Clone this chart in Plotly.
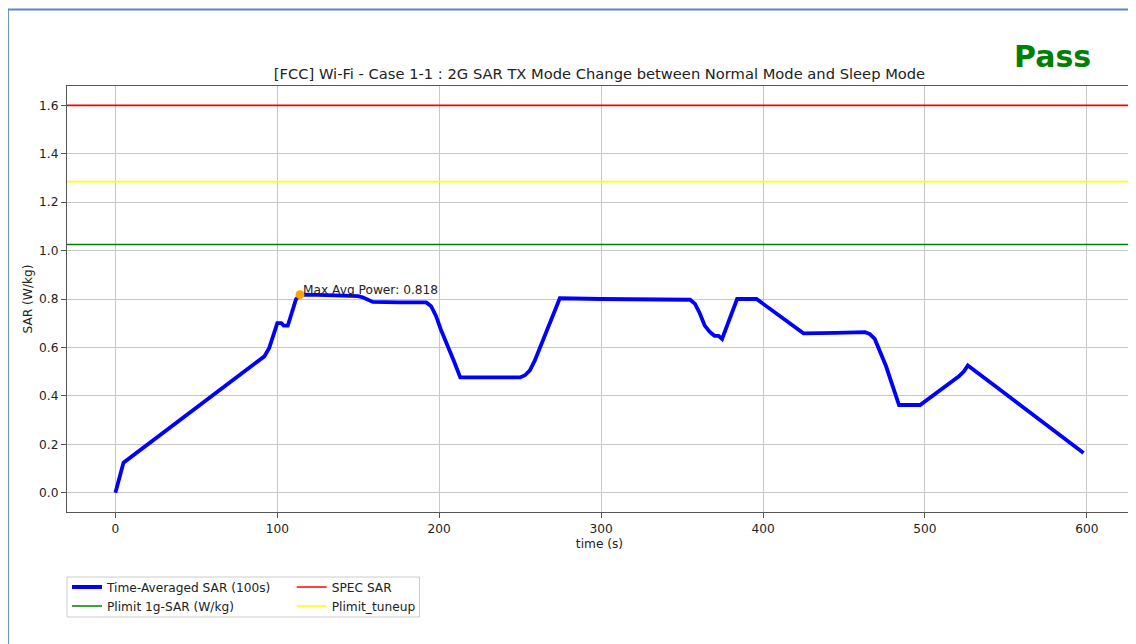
import plotly.graph_objects as go

# time-averaged SAR trace
time_s = [0, 5, 92, 95, 100, 102.5, 104, 106.5, 111.5, 114, 125, 150, 153, 156, 159,
          175, 192, 195, 198, 201, 205, 209, 213, 230, 250, 253, 256, 259, 274.5,
          300, 330, 355, 358, 361, 364, 367, 370, 372.5, 374.7, 384, 396, 410, 425,
          445, 463, 466, 469, 476, 482, 484, 497, 510, 521, 524, 526.5, 545, 575, 598]
sar = [0.0, 0.124, 0.563, 0.598, 0.70, 0.70, 0.69, 0.69, 0.798, 0.818, 0.817, 0.812, 0.806, 0.795, 0.788,
       0.786, 0.786, 0.77, 0.73, 0.674, 0.612, 0.545, 0.476, 0.476, 0.476, 0.485, 0.505, 0.545, 0.803,
       0.800, 0.797, 0.797, 0.78, 0.74, 0.69, 0.665, 0.648, 0.648, 0.635, 0.80, 0.80, 0.73, 0.658,
       0.660, 0.663, 0.655, 0.635, 0.522, 0.405, 0.362, 0.362, 0.426, 0.481, 0.50, 0.525, 0.432, 0.283, 0.164]

spec_sar = 1.6
plimit_tuneup = 1.285
plimit_1g = 1.025
max_t, max_val = 114, 0.818

FONT = "DejaVu Sans"
FS = 12.2  # matplotlib 10pt

fig = go.Figure()
fig.add_scatter(x=time_s, y=sar, mode="lines", line=dict(color="blue", width=3.8),
                name="Time-Averaged SAR (100s)", legend="legend", legendrank=1)
fig.add_scatter(x=[max_t], y=[max_val], mode="markers", marker=dict(color="orange", size=9),
                showlegend=False)
fig.add_annotation(x=max_t, y=max_val, text=f"Max Avg Power: {max_val}", showarrow=False,
                   xanchor="left", yanchor="middle", xshift=1, yshift=5,
                   font=dict(size=FS, color="#222"))

fig.add_hline(y=spec_sar, line=dict(color="red", width=1.6),
              showlegend=True, name="SPEC SAR", legend="legend2", legendrank=1)
fig.add_hline(y=plimit_tuneup, line=dict(color="yellow", width=1.6),
              showlegend=True, name="Plimit_tuneup", legend="legend2", legendrank=2)
fig.add_hline(y=plimit_1g, line=dict(color="green", width=1.6),
              showlegend=True, name="Plimit 1g-SAR (W/kg)", legend="legend", legendrank=2)

# legend frame shared by both legend columns
fig.add_shape(type="rect", xref="paper", yref="paper", x0=0, x1=0.331, y0=-0.2465, y1=-0.1526,
              line=dict(color="#cccccc", width=1), fillcolor="white", layer="below")
# outer frame
fig.add_shape(type="rect", xref="paper", yref="paper", x0=-0.0555, x1=1.2, y0=-0.5, y1=1.1795,
              line=dict(color="#5a86c6", width=2), fillcolor="rgba(0,0,0,0)")

fig.add_annotation(text="<b>Pass</b>", xref="paper", yref="paper", x=0.9257, y=1.0704,
                   xanchor="center", yanchor="middle",
                   showarrow=False, font=dict(size=30, color="green"))

leg_common = dict(bgcolor="rgba(0,0,0,0)", borderwidth=0, font=dict(size=FS, color="#222"),
                  xanchor="left", yanchor="top", orientation="v", tracegroupgap=0)
fig.update_layout(
    width=1128, height=636,
    margin=dict(l=59, r=4, t=78, b=132),
    paper_bgcolor="white", plot_bgcolor="white",
    font=dict(family=FONT, color="#222"),
    title=dict(text="[FCC] Wi-Fi - Case 1-1 : 2G SAR TX Mode Change between Normal Mode and Sleep Mode",
               x=0.5, xref="paper", xanchor="center", y=1 - 66 / 636, yref="container",
               yanchor="middle", font=dict(size=14.7, color="#222")),
    legend=dict(x=0.0, y=-0.142, **leg_common),
    legend2=dict(x=0.211, y=-0.142, **leg_common),
)

axis_common = dict(showline=True, linecolor="#555", linewidth=1.2, mirror=True,
                   ticks="outside", ticklen=5, tickcolor="#555", showgrid=True,
                   gridcolor="#c8c8c8", gridwidth=1, zeroline=False,
                   tickfont=dict(size=FS, color="#222"))
fig.update_xaxes(range=[-29.9, 627.9], tickvals=[0, 100, 200, 300, 400, 500, 600],
                 title=dict(text="time (s)", font=dict(size=FS), standoff=4), **axis_common)
fig.update_yaxes(range=[-0.08, 1.68], dtick=0.2, tick0=0, tickformat=".1f",
                 title=dict(text="SAR (W/kg)", font=dict(size=FS), standoff=3), **axis_common)

fig.write_html("out.html")
